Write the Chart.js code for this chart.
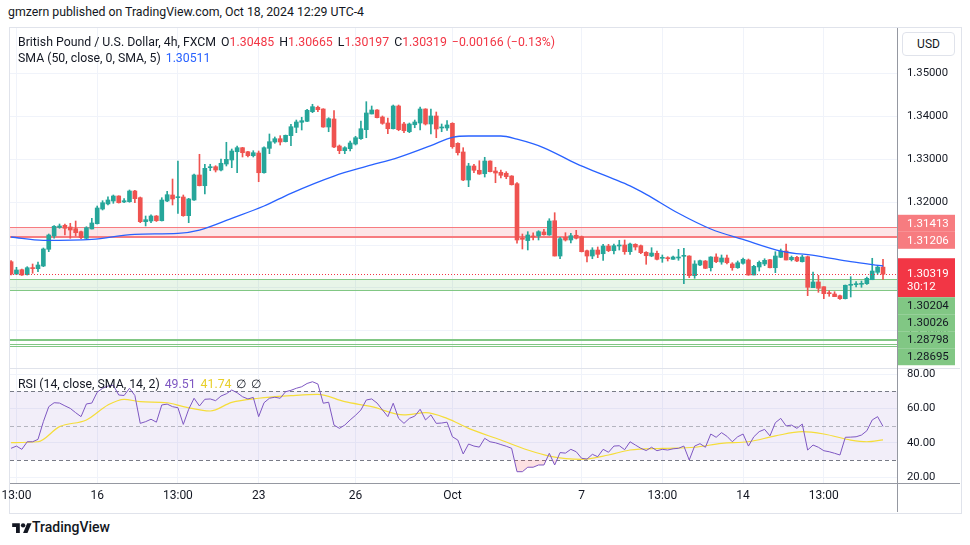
<!DOCTYPE html>
<html>
  <head>
    <meta charset="utf-8">
    <title>GBPUSD 4h</title>
    <script src="https://cdn.jsdelivr.net/npm/chart.js"></script>
    <style>
      body { margin: 0; background: #fff; font-family: Roboto, "Noto Sans", sans-serif; color: #131722; }
      #page { position: relative; width: 970px; height: 545px; overflow: hidden; }
      .abs { position: absolute; white-space: nowrap; }
      .txt { font-size: 12.3px; line-height: 16px; }
      .red { color: #F23645; }
      .blue { color: #2962FF; }
      .purple { color: #7E57C2; }
      .yellow { color: #E8CF2A; }
      .gap { margin-left: 5px; }
      #frame { left: 9px; top: 27px; width: 951px; height: 485px; border: 1px solid #e0e3eb; }
      #usd { left: 902px; top: 32px; width: 51px; height: 22px; border: 1px solid #e0e3eb; border-radius: 4px;
             background: #fff; font-size: 12px; line-height: 22px; text-align: center; }
    </style>
  </head>
  <body>
    <div id="page">
      <div class="abs txt" style="left:8px;top:4px">gmzern published on TradingView.com, Oct 18, 2024 12:29 UTC-4</div>
      <div class="abs" id="frame"></div>
      <canvas id="mainChart" class="abs" style="left:0;top:28px" width="960" height="340"></canvas>
      <canvas id="rsiChart" class="abs" style="left:0;top:369px" width="960" height="143"></canvas>
      <div class="abs" style="left:10px;top:368px;width:950px;height:1px;background:#e0e3eb"></div>
      <div class="abs" style="left:10px;top:483px;width:950px;height:1px;background:#9598a1"></div>
      <div class="abs" style="left:897px;top:28px;width:1px;height:484px;background:#9598a1"></div>
      <div class="abs txt" id="legend1" style="left:18px;top:34px"></div>
      <div class="abs txt" id="legend2" style="left:18px;top:50px"></div>
      <div class="abs txt" id="legend3" style="left:18px;top:376px"></div>
      <div class="abs" id="usd">USD</div>
      <div class="abs" style="left:12px;top:519px;font-size:14px;line-height:16px;font-weight:500">
        <svg width="20" height="12" viewBox="0 0 36 22" style="vertical-align:-1px">
          <path d="M14 22H7V11H0V4h14z" fill="#131722"/>
          <circle cx="20" cy="8" r="4" fill="#131722"/>
          <path d="M28 22h-8l7.5-18h8z" fill="#131722"/>
        </svg>TradingView
      </div>
    </div>

    <script>
      // 4h candles, GBPUSD, FXCM (index 0 = 11 Sep 09:00 ... 162 = 18 Oct 09:00)
      const candleOpen = [
        1.30611, 1.30323, 1.30425, 1.30308, 1.30464, 1.30448, 1.30511, 1.30901, 1.31211, 1.31410,
        1.31461, 1.31421, 1.31382, 1.31312, 1.31158, 1.31375, 1.31498, 1.31841, 1.31960, 1.32028,
        1.32145, 1.32005, 1.32012, 1.32261, 1.32105, 1.31545, 1.31561, 1.31678, 1.31568, 1.32028,
        1.32168, 1.32105, 1.32121, 1.31685, 1.32051, 1.32635, 1.32385, 1.32805, 1.32828, 1.32751,
        1.32891, 1.32985, 1.33178, 1.33272, 1.33178, 1.33085, 1.33148, 1.32688, 1.33257, 1.33405,
        1.33482, 1.33412, 1.33552, 1.33748, 1.33865, 1.33888, 1.34112, 1.34215, 1.34175, 1.33755,
        1.33942, 1.33311, 1.33202, 1.33249, 1.33358, 1.33482, 1.33692, 1.34059, 1.34152, 1.33988,
        1.33848, 1.33715, 1.34245, 1.33825, 1.33645, 1.33808, 1.33848, 1.34175, 1.33825, 1.34012,
        1.33732, 1.33732, 1.33841, 1.33374, 1.33172, 1.32518, 1.32845, 1.32745, 1.32665, 1.32961,
        1.32728, 1.32698, 1.32675, 1.32611, 1.32432, 1.31158, 1.31104, 1.31211, 1.31211, 1.31305,
        1.31235, 1.31568, 1.30744, 1.31181, 1.31118, 1.31228, 1.31195, 1.30868, 1.30744, 1.30884,
        1.30798, 1.30978, 1.30868, 1.30978, 1.31001, 1.30845, 1.31017, 1.30985, 1.30831, 1.30744,
        1.30807, 1.30691, 1.30705, 1.30667, 1.30698, 1.30737, 1.30744, 1.30285, 1.30534, 1.30628,
        1.30471, 1.30721, 1.30604, 1.30698, 1.30558, 1.30471, 1.30574, 1.30651, 1.30301, 1.30488,
        1.30558, 1.30658, 1.30471, 1.30714, 1.30861, 1.30658, 1.30714, 1.30611, 1.30728, 1.30005,
        1.30138, 1.30028, 1.29888, 1.29858, 1.29818, 1.29748, 1.30061, 1.30075, 1.30084, 1.30098,
        1.30191, 1.30364, 1.30485
      ];
      const candleHigh = [
        1.30640, 1.30481, 1.30441, 1.30495, 1.30558, 1.30604, 1.30931, 1.31258, 1.31452, 1.31491,
        1.31491, 1.31508, 1.31561, 1.31328, 1.31428, 1.31624, 1.31911, 1.32035, 1.32128, 1.32168,
        1.32150, 1.32082, 1.32285, 1.32278, 1.32121, 1.31678, 1.31708, 1.31690, 1.32105, 1.32254,
        1.32541, 1.32961, 1.32168, 1.32091, 1.32658, 1.33118, 1.32885, 1.32885, 1.32852, 1.33008,
        1.33398, 1.33241, 1.33311, 1.33280, 1.33190, 1.33202, 1.33195, 1.33295, 1.33592, 1.33522,
        1.33552, 1.33568, 1.33818, 1.33918, 1.33982, 1.34168, 1.34285, 1.34245, 1.34182, 1.33972,
        1.34136, 1.33335, 1.33295, 1.33428, 1.33538, 1.33895, 1.34346, 1.34245, 1.34160, 1.34012,
        1.33965, 1.34268, 1.34268, 1.33865, 1.33848, 1.33918, 1.34222, 1.34182, 1.34175, 1.34105,
        1.33825, 1.33902, 1.33855, 1.33388, 1.33272, 1.32908, 1.32885, 1.32968, 1.33048, 1.32968,
        1.32815, 1.32751, 1.32712, 1.32620, 1.32455, 1.31258, 1.31312, 1.31288, 1.31335, 1.31368,
        1.31615, 1.31755, 1.31181, 1.31288, 1.31274, 1.31344, 1.31211, 1.30884, 1.30938, 1.30955,
        1.31017, 1.31017, 1.31024, 1.31111, 1.31118, 1.31048, 1.31031, 1.31001, 1.30845, 1.30938,
        1.30861, 1.30768, 1.30728, 1.30744, 1.30900, 1.30924, 1.30751, 1.30635, 1.30651, 1.30640,
        1.30728, 1.30798, 1.30768, 1.30768, 1.30588, 1.30628, 1.30698, 1.30674, 1.30527, 1.30628,
        1.30681, 1.30665, 1.30845, 1.30908, 1.31024, 1.30744, 1.30737, 1.30761, 1.30744, 1.30371,
        1.30294, 1.30028, 1.29935, 1.29911, 1.29834, 1.30068, 1.30261, 1.30145, 1.30161, 1.30254,
        1.30691, 1.30527, 1.30665
      ];
      const candleLow = [
        1.30300, 1.30310, 1.30294, 1.30301, 1.30341, 1.30378, 1.30495, 1.30845, 1.31158, 1.31391,
        1.31234, 1.31158, 1.31211, 1.31148, 1.31135, 1.31375, 1.31491, 1.31818, 1.31935, 1.31974,
        1.31980, 1.31988, 1.31998, 1.31988, 1.31522, 1.31445, 1.31522, 1.31550, 1.31561, 1.32012,
        1.31935, 1.31741, 1.31671, 1.31522, 1.32044, 1.32380, 1.32191, 1.32735, 1.32705, 1.32728,
        1.32845, 1.32805, 1.32688, 1.33055, 1.33055, 1.33055, 1.32478, 1.32680, 1.33132, 1.33375,
        1.33335, 1.33405, 1.33318, 1.33622, 1.33685, 1.33882, 1.34089, 1.34112, 1.33748, 1.33645,
        1.33272, 1.33132, 1.33132, 1.33195, 1.33335, 1.33468, 1.33505, 1.34059, 1.33965, 1.33818,
        1.33598, 1.33708, 1.33668, 1.33622, 1.33622, 1.33738, 1.33685, 1.33802, 1.33592, 1.33505,
        1.33645, 1.33678, 1.33258, 1.33101, 1.32502, 1.32362, 1.32688, 1.32650, 1.32588, 1.32705,
        1.32455, 1.32565, 1.32548, 1.32400, 1.31041, 1.30908, 1.30885, 1.31118, 1.31118, 1.31228,
        1.31228, 1.30744, 1.30681, 1.31094, 1.31048, 1.31141, 1.30838, 1.30604, 1.30681, 1.30705,
        1.30644, 1.30845, 1.30791, 1.30884, 1.30784, 1.30784, 1.30884, 1.30798, 1.30551, 1.30728,
        1.30651, 1.30597, 1.30628, 1.30667, 1.30644, 1.30098, 1.30239, 1.30224, 1.30520, 1.30450,
        1.30394, 1.30588, 1.30551, 1.30558, 1.30411, 1.30457, 1.30551, 1.30294, 1.30301, 1.30394,
        1.30518, 1.30464, 1.30355, 1.30705, 1.30651, 1.30628, 1.30611, 1.30604, 1.29818, 1.30005,
        1.29897, 1.29748, 1.29804, 1.29795, 1.29734, 1.29741, 1.29788, 1.30021, 1.30014, 1.30084,
        1.30191, 1.30317, 1.30197
      ];
      const candleClose = [
        1.30323, 1.30418, 1.30301, 1.30471, 1.30450, 1.30534, 1.30908, 1.31235, 1.31438, 1.31445,
        1.31391, 1.31351, 1.31288, 1.31172, 1.31405, 1.31515, 1.31865, 1.31988, 1.32052, 1.32145,
        1.31988, 1.32035, 1.32261, 1.32082, 1.31545, 1.31592, 1.31678, 1.31568, 1.32051, 1.32175,
        1.32075, 1.32128, 1.31685, 1.32075, 1.32635, 1.32385, 1.32791, 1.32828, 1.32751, 1.32908,
        1.33001, 1.33195, 1.33272, 1.33155, 1.33085, 1.33155, 1.32688, 1.33272, 1.33412, 1.33482,
        1.33405, 1.33561, 1.33762, 1.33872, 1.33902, 1.34145, 1.34229, 1.34159, 1.33755, 1.33949,
        1.33288, 1.33202, 1.33272, 1.33382, 1.33505, 1.33715, 1.34082, 1.34152, 1.33972, 1.33840,
        1.33715, 1.34245, 1.33692, 1.33668, 1.33825, 1.33872, 1.34175, 1.33825, 1.34012, 1.33708,
        1.33755, 1.33802, 1.33295, 1.33155, 1.32518, 1.32845, 1.32745, 1.32658, 1.32961, 1.32712,
        1.32681, 1.32628, 1.32595, 1.32408, 1.31118, 1.31134, 1.31235, 1.31188, 1.31312, 1.31242,
        1.31561, 1.30744, 1.31148, 1.31118, 1.31218, 1.31158, 1.30845, 1.30744, 1.30884, 1.30784,
        1.30978, 1.30868, 1.30985, 1.30992, 1.30845, 1.31024, 1.30954, 1.30822, 1.30751, 1.30814,
        1.30667, 1.30714, 1.30681, 1.30721, 1.30721, 1.30751, 1.30285, 1.30558, 1.30635, 1.30457,
        1.30721, 1.30611, 1.30698, 1.30588, 1.30471, 1.30588, 1.30667, 1.30301, 1.30504, 1.30597,
        1.30644, 1.30471, 1.30744, 1.30861, 1.30651, 1.30714, 1.30628, 1.30721, 1.30014, 1.30138,
        1.29991, 1.29865, 1.29865, 1.29795, 1.29748, 1.30061, 1.30084, 1.30098, 1.30107, 1.30224,
        1.30394, 1.30485, 1.30319
      ];

      // SMA(50), at a few candle indexes
      const smaIdx = [0, 6, 15, 23, 31, 35, 41, 47, 52, 60, 66, 72, 78, 82, 85, 91, 94, 99, 105, 109,
                      112, 115, 118, 124, 130, 136, 143, 150, 156, 162];
      const smaVal = [1.31188, 1.31111, 1.31134, 1.31251, 1.31274, 1.31351, 1.31624, 1.31911, 1.32208, 1.32610,
                      1.32835, 1.33045, 1.33320, 1.33515, 1.33545, 1.33545, 1.33470, 1.33270, 1.32900, 1.32690,
                      1.32540, 1.32380, 1.32184, 1.31741, 1.31375, 1.31130, 1.30860, 1.30744, 1.30611, 1.30511];

      // RSI(14), one value per candle
      const rsiValues = [
        36.8, 38.1, 36.2, 40.6, 40.6, 42.0, 52.3, 61.0, 63.3, 63.1,
        61.5, 60.0, 57.5, 55.2, 62.6, 63.1, 69.4, 71.7, 73.0, 73.5,
        67.8, 67.5, 71.7, 67.5, 51.3, 52.3, 53.7, 52.0, 62.0, 62.5,
        61.0, 60.4, 50.7, 59.5, 65.9, 61.4, 65.3, 65.5, 64.5, 67.2,
        68.5, 70.7, 69.1, 66.8, 65.5, 66.4, 55.2, 63.3, 65.9, 66.5,
        65.9, 69.7, 70.5, 71.7, 72.6, 74.5, 75.5, 74.2, 63.0, 63.6,
        50.3, 48.4, 50.3, 53.3, 56.0, 59.1, 64.9, 65.5, 63.1, 59.1,
        55.2, 63.0, 54.2, 51.3, 54.2, 55.5, 59.5, 53.3, 56.2, 51.3,
        51.5, 52.0, 43.5, 41.6, 33.5, 39.3, 38.1, 37.5, 42.6, 40.6,
        40.0, 39.0, 38.0, 36.8, 23.2, 23.2, 25.8, 25.8, 27.1, 27.1,
        33.9, 27.1, 34.3, 34.0, 36.2, 34.8, 31.0, 30.5, 33.3, 31.9,
        36.2, 34.5, 38.1, 38.3, 36.0, 40.6, 38.7, 36.8, 35.5, 37.4,
        35.4, 36.2, 35.8, 36.5, 36.8, 38.1, 30.0, 38.1, 39.5, 37.4,
        45.1, 43.2, 45.9, 43.8, 40.6, 43.5, 45.1, 38.1, 43.5, 46.5,
        47.8, 44.0, 51.7, 54.2, 49.8, 50.3, 48.4, 50.9, 35.8, 38.7,
        37.4, 35.4, 34.8, 33.9, 32.9, 43.2, 43.3, 43.5, 44.5, 47.0,
        53.3, 55.2, 49.51
      ];
      // SMA(14) of RSI, read at a few indexes
      const rsiSmaIdx = [0, 5, 9, 14, 18, 21, 24, 29, 32, 37, 41, 46, 52, 57, 62, 67, 73, 77, 81, 85,
                         91, 96, 100, 106, 111, 115, 121, 127, 132, 137, 142, 147, 151, 156, 159, 162];
      const rsiSmaVal = [40.1, 40.6, 49.4, 53.3, 62.0, 65.3, 63.9, 63.3, 61.0, 58.5, 63.5, 65.9, 67.4, 68.2, 63.9, 61.0,
                         56.2, 57.5, 54.2, 48.4, 41.6, 35.8, 32.3, 30.4, 32.9, 35.8, 36.8, 37.4, 39.7, 40.6, 44.0,
                         46.5, 45.1, 41.6, 40.6, 41.74];

      const timeTickIdx = [1, 16, 31, 46, 64, 82, 106, 121, 136, 151];
      const timeTickText = ['13:00', '16', '13:00', '23', '26', 'Oct', '7', '13:00', '14', '13:00'];
      const priceTicks = [1.29, 1.30, 1.31, 1.32, 1.33, 1.34, 1.35];
      const rsiTicks = [20, 40, 60, 80];

      // drawn zones
      const resistanceZone = [1.31413, 1.31206];
      const supportZone = [1.30204, 1.29950];
      const lowerLines = [1.28798, 1.28695, 1.28640];
      const zoneLabels = [1.31413, 1.31206, 1.30204, 1.30026, 1.28798, 1.28695];
      const countdown = '30:12';

      const upColor = '#26A69A';
      const downColor = '#EF5350';
      const last = candleClose.length - 1;
      const candleColors = candleOpen.map((o, i) => (candleClose[i] >= o ? upColor : downColor));

      Chart.defaults.font.family = 'Roboto, "Noto Sans", sans-serif';
      Chart.defaults.font.size = 11.3;
      Chart.defaults.color = '#131722';

      // legends
      const chg = candleClose[last] - candleClose[last - 1];
      const pct = (chg / candleClose[last - 1]) * 100;
      const signed = (v, d) => (v < 0 ? '\u2212' : '+') + Math.abs(v).toFixed(d);
      document.getElementById('legend1').innerHTML =
        'British Pound / U.S. Dollar, 4h, FXCM' +
        '<span class="gap">O</span><span class="red">' + candleOpen[last].toFixed(5) + '</span>' +
        '<span class="gap">H</span><span class="red">' + candleHigh[last].toFixed(5) + '</span>' +
        '<span class="gap">L</span><span class="red">' + candleLow[last].toFixed(5) + '</span>' +
        '<span class="gap">C</span><span class="red">' + candleClose[last].toFixed(5) + '</span>' +
        '<span class="gap red">' + signed(chg, 5) + ' (' + signed(pct, 2) + '%)</span>';
      document.getElementById('legend2').innerHTML =
        'SMA (50, close, 0, SMA, 5)<span class="gap blue">' + smaVal[smaVal.length - 1].toFixed(5) + '</span>';
      document.getElementById('legend3').innerHTML =
        'RSI (14, close, SMA, 14, 2)<span class="gap purple">' + rsiValues[last].toFixed(2) + '</span>' +
        '<span class="gap yellow">' + rsiSmaVal[rsiSmaVal.length - 1].toFixed(2) + '</span>' +
        '<span class="gap">\u2205</span><span class="gap">\u2205</span>';

      const xMin = -0.2;
      const xMax = 164.6;

      function xGrid() {
        return {
          type: 'linear', min: xMin, max: xMax, offset: false,
          grid: { color: '#f0f3fa', drawTicks: false, offset: false },
          border: { display: false },
          afterBuildTicks: (s) => { s.ticks = timeTickIdx.map((v) => ({ value: v })); }
        };
      }

      // zones under the candles, price line and axis labels on top
      const mainOverlay = {
        id: 'mainOverlay',
        beforeDatasetsDraw(chart) {
          const { ctx, chartArea: a, scales: { y } } = chart;
          ctx.save();
          const r0 = y.getPixelForValue(resistanceZone[0]);
          const r1 = y.getPixelForValue(resistanceZone[1]);
          ctx.fillStyle = 'rgba(242,54,69,0.13)';
          ctx.fillRect(a.left, r0, a.right - a.left, r1 - r0);
          ctx.fillStyle = '#F77C80';
          ctx.fillRect(a.left, Math.round(r0), a.right - a.left, 1);
          ctx.fillRect(a.left, Math.round(r1), a.right - a.left, 2);
          const g0 = y.getPixelForValue(supportZone[0]);
          const g1 = y.getPixelForValue(supportZone[1]);
          ctx.fillStyle = 'rgba(76,175,80,0.13)';
          ctx.fillRect(a.left, g0, a.right - a.left, g1 - g0);
          ctx.fillStyle = '#81C784';
          ctx.fillRect(a.left, Math.round(g0), a.right - a.left, 1);
          ctx.fillRect(a.left, Math.round(g1), a.right - a.left, 1);
          lowerLines.forEach((v, k) => {
            ctx.fillRect(a.left, Math.round(y.getPixelForValue(v)), a.right - a.left, k === 0 ? 2 : 1);
          });
          ctx.restore();
        },
        afterDatasetsDraw(chart) {
          const { ctx, chartArea: a, scales: { y } } = chart;
          const py = Math.round(y.getPixelForValue(candleClose[last])) + 0.5;
          ctx.save();
          ctx.strokeStyle = '#F23645';
          ctx.lineWidth = 1;
          ctx.setLineDash([1, 2]);
          ctx.beginPath();
          ctx.moveTo(a.left, py);
          ctx.lineTo(a.right, py);
          ctx.stroke();
          ctx.restore();
        },
        afterDraw(chart) {
          const { ctx, chartArea: a, scales: { y } } = chart;
          const items = zoneLabels.map((v, k) => ({
            value: v,
            lines: [v.toFixed(5)],
            bg: k < 2 ? '#F77C80' : '#81C784',
            fg: k < 2 ? '#ffffff' : '#131722'
          }));
          items.push({ value: candleClose[last], lines: [candleClose[last].toFixed(5), countdown],
                       bg: '#F23645', fg: '#ffffff', fixed: true });
          const boxes = items.map((it) => {
            const h = it.lines.length > 1 ? 39 : 17;
            const px = y.getPixelForValue(it.value);
            return Object.assign(it, { h, want: it.fixed ? px - 16 : px - h / 2 });
          }).sort((p, q) => p.want - q.want);
          let clusters = boxes.map((b) => ({ items: [b] }));
          const place = (c) => {
            let off = 0;
            c.items.forEach((b) => { b.off = off; off += b.h; });
            c.h = off;
            const f = c.items.find((b) => b.fixed);
            c.top = f ? f.want - f.off
              : c.items.reduce((s, b) => s + b.want - b.off, 0) / c.items.length;
            c.items.forEach((b) => { b.top = c.top + b.off; });
          };
          let merged = true;
          while (merged) {
            merged = false;
            clusters.forEach(place);
            for (let k = 1; k < clusters.length; k++) {
              if (clusters[k - 1].top + clusters[k - 1].h > clusters[k].top) {
                clusters[k - 1].items.push(...clusters[k].items);
                clusters.splice(k, 1);
                merged = true;
                break;
              }
            }
          }
          ctx.save();
          ctx.font = '11.5px Roboto, "Noto Sans", sans-serif';
          ctx.textBaseline = 'middle';
          ctx.textAlign = 'left';
          boxes.forEach((b) => {
            ctx.fillStyle = b.bg;
            ctx.fillRect(a.right + 1, b.top, 57, b.h);
            ctx.fillStyle = b.fg;
            if (b.lines.length > 1) {
              ctx.fillText(b.lines[0], a.right + 10, b.top + 16);
              ctx.fillText(b.lines[1], a.right + 10, b.top + 29);
            } else {
              ctx.fillText(b.lines[0], a.right + 10, b.top + b.h / 2 + 0.5);
            }
          });
          ctx.restore();
        }
      };

      new Chart(document.getElementById('mainChart'), {
        type: 'bar',
        data: {
          datasets: [
            {
              type: 'line',
              label: 'SMA 50',
              data: smaIdx.map((x, k) => ({ x, y: smaVal[k] })),
              borderColor: '#2962FF',
              borderWidth: 1.3,
              pointRadius: 0,
              cubicInterpolationMode: 'monotone',
              order: 0
            },
            {
              label: 'wick',
              data: candleHigh.map((h, i) => ({ x: i, y: [candleLow[i], h] })),
              backgroundColor: candleColors,
              barThickness: 1,
              grouped: false,
              order: 2
            },
            {
              label: 'body',
              data: candleOpen.map((o, i) => ({ x: i, y: [o, candleClose[i]] })),
              backgroundColor: candleColors,
              barThickness: 4,
              minBarLength: 1,
              grouped: false,
              order: 1
            }
          ]
        },
        options: {
          responsive: false,
          animation: false,
          devicePixelRatio: 1,
          layout: { padding: { left: 10, top: 0, right: 0, bottom: 0 } },
          plugins: { legend: { display: false }, tooltip: { enabled: false } },
          scales: {
            x: Object.assign(xGrid(), {
              ticks: { display: false },
              afterFit: (s) => { s.height = 0; s.paddingLeft = 0; s.paddingRight = 0; }
            }),
            y: {
              position: 'right',
              min: 1.281307,
              max: 1.360653,
              grid: { color: '#f0f3fa', drawTicks: false },
              border: { display: false },
              afterBuildTicks: (s) => { s.ticks = priceTicks.map((v) => ({ value: v })); },
              ticks: { padding: 10, callback: (v) => Number(v).toFixed(5) },
              afterFit: (s) => { s.width = 63; s.paddingTop = 0; s.paddingBottom = 0; }
            }
          }
        },
        plugins: [mainOverlay]
      });

      const rsiBands = {
        id: 'rsiBands',
        beforeDatasetsDraw(chart) {
          const { ctx, chartArea: a, scales: { y } } = chart;
          const y70 = y.getPixelForValue(70);
          const y50 = y.getPixelForValue(50);
          const y30 = y.getPixelForValue(30);
          ctx.save();
          ctx.fillStyle = 'rgba(126,87,194,0.1)';
          ctx.fillRect(a.left, y70, a.right - a.left, y30 - y70);
          ctx.lineWidth = 1;
          ctx.setLineDash([4, 3]);
          [[y70, '#787B86'], [y50, 'rgba(120,123,134,0.5)'], [y30, '#787B86']].forEach(([py, c]) => {
            ctx.strokeStyle = c;
            ctx.beginPath();
            ctx.moveTo(a.left, Math.round(py) + 0.5);
            ctx.lineTo(a.right, Math.round(py) + 0.5);
            ctx.stroke();
          });
          ctx.restore();
        }
      };

      new Chart(document.getElementById('rsiChart'), {
        type: 'line',
        data: {
          datasets: [
            {
              label: 'RSI',
              data: rsiValues.map((v, i) => ({ x: i, y: v })),
              borderColor: '#7E57C2',
              borderWidth: 1,
              pointRadius: 0,
              fill: { target: { value: 30 }, above: 'rgba(0,0,0,0)', below: 'rgba(242,54,69,0.15)' },
              order: 0
            },
            {
              label: 'RSI SMA',
              data: rsiSmaIdx.map((x, k) => ({ x, y: rsiSmaVal[k] })),
              borderColor: '#F5DD3A',
              borderWidth: 1.2,
              pointRadius: 0,
              cubicInterpolationMode: 'monotone',
              order: 1
            }
          ]
        },
        options: {
          responsive: false,
          animation: false,
          devicePixelRatio: 1,
          layout: { padding: { left: 10, top: 0, right: 0, bottom: 0 } },
          plugins: { legend: { display: false }, tooltip: { enabled: false } },
          scales: {
            x: Object.assign(xGrid(), {
              position: 'bottom',
              ticks: {
                padding: 6, autoSkip: false, maxRotation: 0, minRotation: 0,
                font: { size: 12 },
                callback: (v, k) => timeTickText[k]
              },
              afterFit: (s) => { s.height = 29; s.paddingLeft = 0; s.paddingRight = 0; }
            }),
            y: {
              position: 'right',
              min: 16.628,
              max: 82.907,
              grid: { color: '#f0f3fa', drawTicks: false },
              border: { display: false },
              afterBuildTicks: (s) => { s.ticks = rsiTicks.map((v) => ({ value: v })); },
              ticks: { padding: 10, callback: (v) => Number(v).toFixed(2) },
              afterFit: (s) => { s.width = 63; s.paddingTop = 0; s.paddingBottom = 0; }
            }
          }
        },
        plugins: [rsiBands]
      });
    </script>
  </body>
</html>
